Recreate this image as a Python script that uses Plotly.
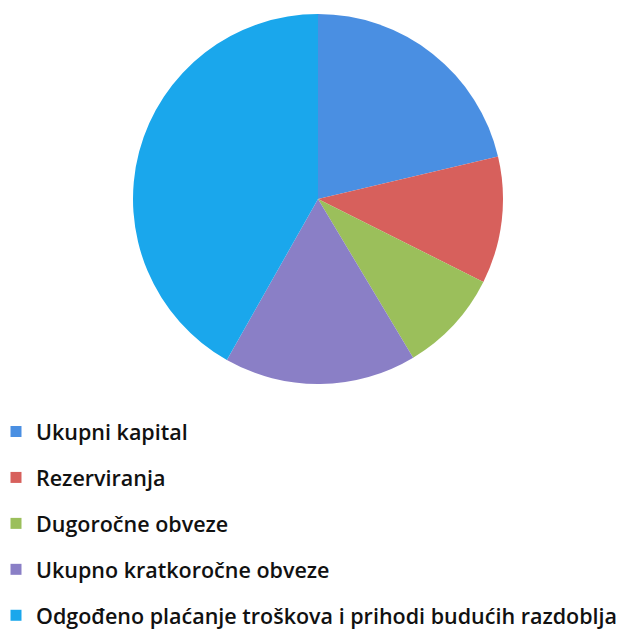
import plotly.graph_objects as go

labels = ["Ukupni kapital", "Rezerviranja", "Dugoročne obveze",
          "Ukupno kratkoročne obveze",
          "Odgođeno plaćanje troškova i prihodi budućih razdoblja"]
values = [21.3, 11.1, 9.0, 16.8, 41.8]
colors = ["#4A8FE2", "#D7605C", "#9BBF5B", "#8A7FC6", "#1AA7EC"]

W, H = 626, 633
cx, cy, r = 318, 199, 185

fig = go.Figure()
fig.add_trace(go.Pie(
    labels=labels, values=values, sort=False, direction="clockwise",
    rotation=0, marker=dict(colors=colors, line=dict(width=0)),
    textinfo="none", hoverinfo="label+percent", showlegend=False,
    domain=dict(x=[(cx - r) / W, (cx + r) / W],
                y=[1 - (cy + r) / H, 1 - (cy - r) / H]),
))

for i, (lab, col) in enumerate(zip(labels, colors)):
    fig.add_trace(go.Scatter(
        x=[None], y=[None], mode="markers", name=lab,
        marker=dict(symbol="square", size=11, color=col),
        legendgroup=f"g{i}", showlegend=True, hoverinfo="skip",
    ))

fig.update_layout(
    width=W, height=H,
    margin=dict(l=0, r=0, t=0, b=0, autoexpand=False),
    paper_bgcolor="white", plot_bgcolor="white",
    xaxis=dict(visible=False), yaxis=dict(visible=False),
    legend=dict(
        x=-4 / W, xanchor="left", y=1 - 411 / H, yanchor="top",
        font=dict(family="Open Sans", size=21.5, color="#111111", weight=600),
        tracegroupgap=15, itemwidth=30,
        bgcolor="rgba(0,0,0,0)",
    ),
)

fig.write_html("out.html", config={"displayModeBar": False},
               post_script="document.body.style.margin='0';")
